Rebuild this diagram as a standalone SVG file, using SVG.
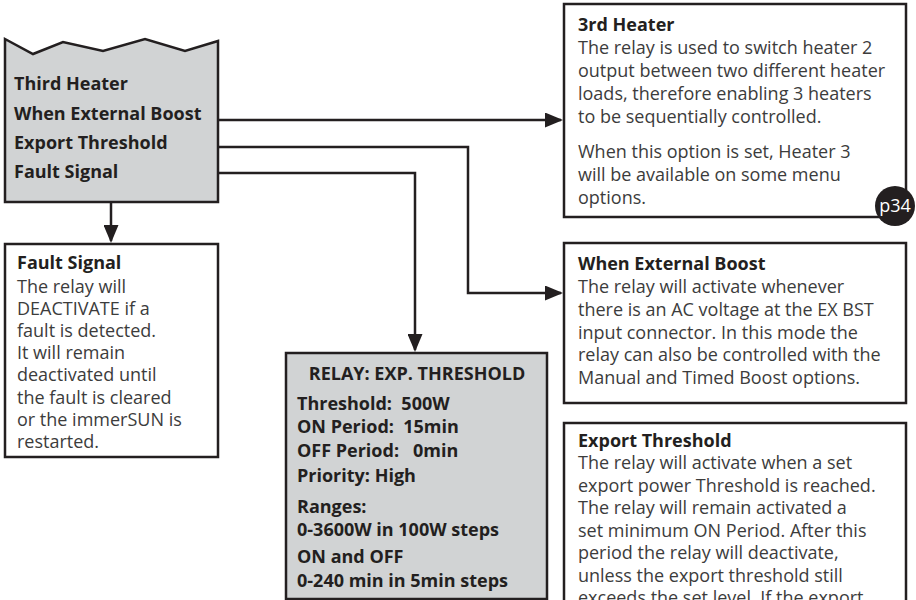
<svg xmlns="http://www.w3.org/2000/svg" width="916" height="600" viewBox="0 0 916 600">
<style>
.box{fill:#ffffff;stroke:#231f20;stroke-width:2.5}
.gbox{fill:#d1d3d4;stroke:#231f20;stroke-width:2.5}
.conn{fill:none;stroke:#231f20;stroke-width:2.5}
text{font-family:"Open Sans","DejaVu Sans",sans-serif;font-size:18px}
.t{font-weight:bold;fill:#231f20}
.b{fill:#3c3c3c}
.p{fill:#ffffff}
.pre{white-space:pre}
</style>
<defs>
<marker id="ah" markerWidth="18" markerHeight="15" refX="16" refY="7.5" orient="auto" markerUnits="userSpaceOnUse">
<path d="M0,0 L18,7.5 L0,15 Z" fill="#231f20"/>
</marker>
</defs>
<rect width="916" height="600" fill="#ffffff"/>

<g id="connectors">
<path class="conn" d="M218,120 H561" marker-end="url(#ah)"/>
<path class="conn" d="M218,147 H468 V293 H561" marker-end="url(#ah)"/>
<path class="conn" d="M218,173 H415 V350" marker-end="url(#ah)"/>
<path class="conn" d="M111,202 V241" marker-end="url(#ah)"/>
</g>

<g id="menu">
<path class="gbox" d="M5,39 L33,54 L63,42 L103,51 L145,39 L185,51 L218,41 L218,202 L5,202 Z"/>
<text class="t" x="14" y="90">Third Heater</text>
<text class="t" x="14" y="120">When External Boost</text>
<text class="t" x="14" y="149">Export Threshold</text>
<text class="t" x="14" y="178">Fault Signal</text>
</g>

<g id="third-heater">
<rect class="box" x="564" y="4" width="342" height="213"/>
<text class="t" x="578" y="31">3rd Heater</text>
<text class="b" x="578" y="54">The relay is used to switch heater 2</text>
<text class="b" x="578" y="77">output between two different heater</text>
<text class="b" x="578" y="100">loads, therefore enabling 3 heaters</text>
<text class="b" x="578" y="123">to be sequentially controlled.</text>
<text class="b" x="578" y="158">When this option is set, Heater 3</text>
<text class="b" x="578" y="181">will be available on some menu</text>
<text class="b" x="578" y="204">options.</text>
<circle cx="895" cy="206" r="20" fill="#231f20"/>
<text class="p" x="895" y="212" text-anchor="middle">p34</text>
</g>

<g id="fault-signal">
<rect class="box" x="5" y="244" width="213" height="213"/>
<text class="t" x="17" y="269">Fault Signal</text>
<text class="b" x="17" y="293">The relay will</text>
<text class="b" x="17" y="315">DEACTIVATE if a</text>
<text class="b" x="17" y="337">fault is detected.</text>
<text class="b" x="17" y="359">It will remain</text>
<text class="b" x="17" y="381">deactivated until</text>
<text class="b" x="17" y="404">the fault is cleared</text>
<text class="b" x="17" y="426">or the immerSUN is</text>
<text class="b" x="17" y="448">restarted.</text>
</g>

<g id="external-boost">
<rect class="box" x="564" y="243" width="342" height="160"/>
<text class="t" x="578" y="270">When External Boost</text>
<text class="b" x="578" y="293">The relay will activate whenever</text>
<text class="b" x="578" y="316">there is an AC voltage at the EX BST</text>
<text class="b" x="578" y="339">input connector. In this mode the</text>
<text class="b" x="578" y="361">relay can also be controlled with the</text>
<text class="b" x="578" y="384">Manual and Timed Boost options.</text>
</g>

<g id="relay">
<rect class="gbox" x="286" y="353" width="261" height="246"/>
<text class="t" x="417" y="380" text-anchor="middle">RELAY: EXP. THRESHOLD</text>
<text class="t pre" x="297" y="410" xml:space="preserve">Threshold:  500W</text>
<text class="t pre" x="297" y="433" xml:space="preserve">ON Period:  15min</text>
<text class="t pre" x="297" y="457" xml:space="preserve">OFF Period:   0min</text>
<text class="t" x="297" y="482">Priority: High</text>
<text class="t" x="297" y="513">Ranges:</text>
<text class="t" x="297" y="536">0-3600W in 100W steps</text>
<text class="t" x="297" y="563">ON and OFF</text>
<text class="t" x="297" y="587">0-240 min in 5min steps</text>
</g>

<g id="export-threshold">
<rect class="box" x="564" y="423" width="342" height="190"/>
<text class="t" x="578" y="447">Export Threshold</text>
<text class="b" x="578" y="469">The relay will activate when a set</text>
<text class="b" x="578" y="492">export power Threshold is reached.</text>
<text class="b" x="578" y="514">The relay will remain activated a</text>
<text class="b" x="578" y="537">set minimum ON Period. After this</text>
<text class="b" x="578" y="559">period the relay will deactivate,</text>
<text class="b" x="578" y="582">unless the export threshold still</text>
<text class="b" x="578" y="604">exceeds the set level. If the export</text>
</g>
</svg>
